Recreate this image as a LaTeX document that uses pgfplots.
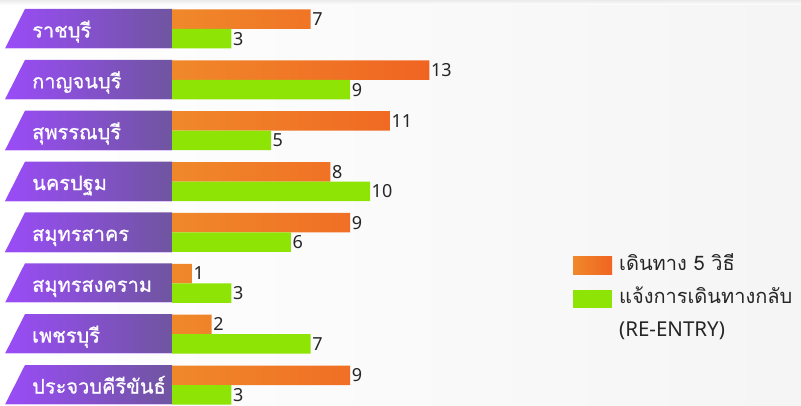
\documentclass[border=0pt]{standalone}
\usepackage{fontspec}
\usepackage{pgfplots}
\usepackage{pgfplotstable}
\pgfplotsset{compat=1.18}
\setmainfont{Noto Sans}
\newfontfamily\thaifont[Script=Thai]{Loma}
\newfontfamily\thaibold[Script=Thai,FakeBold=0.8]{Loma}
\definecolor{orL}{HTML}{F0882A}
\definecolor{orR}{HTML}{F06422}
\definecolor{grn}{HTML}{8EE404}
\definecolor{puL}{HTML}{9A4CF8}
\definecolor{puR}{HTML}{6F55A0}
\definecolor{txt}{HTML}{262626}

\pgfplotstableread{
idx orange green
7 7 3
6 13 9
5 11 5
4 8 10
3 9 6
2 1 3
1 2 7
0 9 3
}\data

\begin{document}
\begin{tikzpicture}
\shade[left color=white, right color=black!4] (0pt,0pt) rectangle (801pt,405pt);
\shade[top color=black!8, bottom color=white] (0pt,400pt) rectangle (801pt,405pt);
\foreach \i/\name in {0/ราชบุรี,1/กาญจนบุรี,2/สุพรรณบุรี,3/นครปฐม,4/สมุทรสาคร,5/สมุทรสงคราม,6/เพชรบุรี,7/ประจวบคีรีขันธ์}{
  \pgfmathsetmacro\yt{405-9-50.86*\i}
  \pgfmathsetmacro\yb{405-48.5-50.86*\i}
  \pgfmathsetmacro\ybase{\yb+11}
  \shade[left color=puL, right color=puR] (5pt,\yb pt) -- (25pt,\yt pt) -- (172pt,\yt pt) -- (172pt,\yb pt) -- cycle;
  \draw[white!70!puL, line width=0.8pt] (5pt,\yb pt) -- (172pt,\yb pt);
  \node[anchor=base west, inner sep=0pt, text=white, font=\thaibold\fontsize{20}{22}\selectfont] at (32pt,\ybase pt) {\name};
}
\begin{axis}[
  at={(0pt,0pt)}, anchor=south west,
  scale only axis, width=801pt, height=405pt,
  xmin=-8.6869, xmax=31.7677,
  ymin=-0.3932, ymax=7.5698,
  hide axis, xbar, bar width=19.5pt,
  clip=false,
  /pgf/number format/assume math mode=true,
  nodes near coords,
  every node near coord/.append style={font=\fontsize{18}{20}\selectfont, text=txt, inner sep=1.5pt, anchor=west},
  legend style={at={(axis cs:20.1,2.71)}, anchor=north west, draw=none, fill=none,
    font=\thaifont\fontsize{20}{22}\selectfont, text=txt,
    cells={anchor=west}, row sep=0pt, column sep=7pt,
    nodes={inner sep=0pt, text height=21pt, text depth=12pt}},
]
\addplot[bar shift=9.75pt, draw=none, left color=orL, right color=orR,
  legend image code/.code={\path[draw=none,left color=orL, right color=orR] (0pt,-9pt) rectangle (39pt,9pt);}]
  table[x=orange, y=idx] {\data};
\addlegendentry{เดินทาง 5 วิธี}
\addplot[bar shift=-9.75pt, draw=none, fill=grn,
  legend image code/.code={\path[draw=none,fill=grn] (0pt,-9pt) rectangle (39pt,9pt);}]
  table[x=green, y=idx] {\data};
\addlegendentry{แจ้งการเดินทางกลับ}
\addlegendimage{empty legend}
\addlegendentry{\rmfamily\fontsize{20.5}{22}\selectfont (RE-ENTRY)}
\end{axis}
\pgfresetboundingbox
\path[use as bounding box] (0pt,0pt) rectangle (801pt,405pt);
\end{tikzpicture}
\end{document}
